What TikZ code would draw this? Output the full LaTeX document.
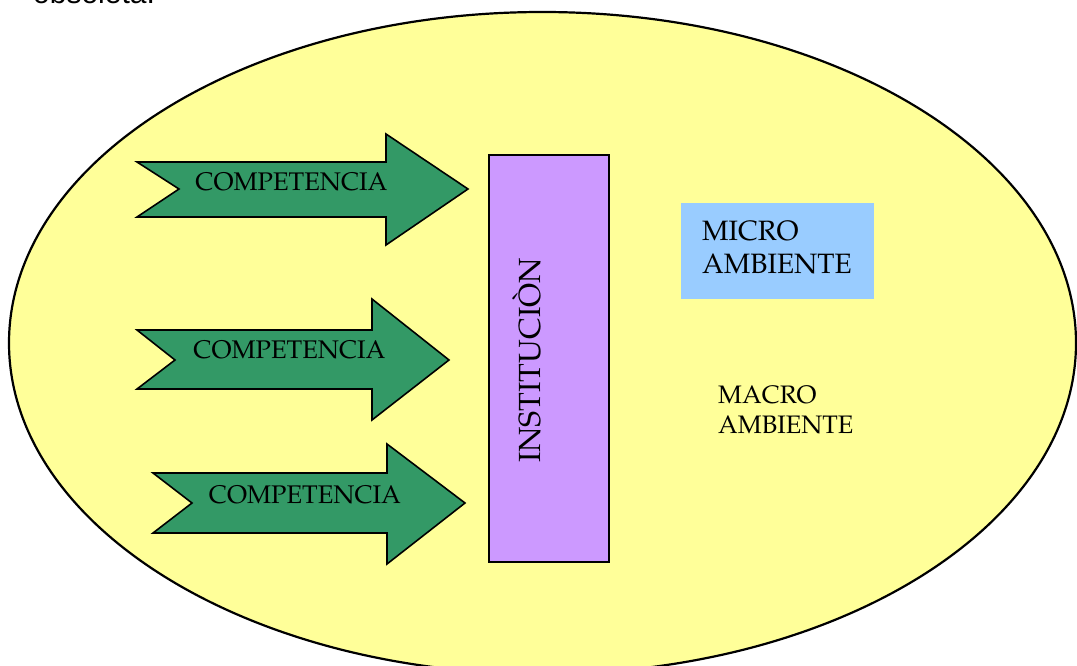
\documentclass[tikz,border=0pt]{standalone}
\usepackage{fontspec}
\newfontfamily\topfont{Liberation Sans}
\usepackage[T1]{fontenc}
\renewcommand{\rmdefault}{ppl}
\definecolor{envyellow}{HTML}{FFFF99}
\definecolor{compgreen}{HTML}{339966}
\definecolor{instpurple}{HTML}{CC99FF}
\definecolor{microblue}{HTML}{99CCFF}
\tikzset{
  comparrow/.style={draw=black, line width=1.6pt, fill=compgreen, line join=miter},
  comptext/.style={anchor=base, inner sep=0pt, font=\fontsize{25.5}{30}\selectfont},
  envtext/.style={anchor=north west, inner sep=0pt, align=left}
}
\begin{document}
\begin{tikzpicture}[x=1pt, y=-1pt]
\useasboundingbox (0,0) rectangle (1077,666);
% partly visible heading text
\node[anchor=base west, inner sep=0pt, font=\topfont\fontsize{30}{36}\selectfont] (heading) at (33,4) {obsoleta.};
% environment ellipse
\draw[line width=2.2pt, fill=envyellow] (542.5,343) ellipse [x radius=533.5, y radius=331];
\node (env) at (542.5,343) {};
% arrows
\draw[comparrow] (137,162) -- (386,162) -- (386,134) -- (468,189) -- (386,245) -- (386,217) -- (137,217) -- (179,189) -- cycle;
\node[comptext] (c1) at (291.5,191) {COMPETENCIA};
\draw[comparrow] (137,330) -- (372,330) -- (372,299) -- (449,360) -- (372,420) -- (372,389) -- (137,389) -- (175,360) -- cycle;
\node[comptext] (c2) at (289.5,358) {COMPETENCIA};
\draw[comparrow] (153,473) -- (387,473) -- (387,444) -- (465,503) -- (387,564) -- (387,533) -- (153,533) -- (192,503) -- cycle;
\node[comptext] (c3) at (305,503) {COMPETENCIA};
% institution
\node[draw=black, line width=1.3pt, fill=instpurple, minimum width=120pt, minimum height=407pt, inner sep=0pt] (inst) at (549,358.5) {};
\node[rotate=90, anchor=base, inner sep=0pt, font=\fontsize{30.6}{36}\selectfont] (insttext) at (540,360.5) {INSTITUCI\`ON};
% micro environment
\node[fill=microblue, minimum width=193pt, minimum height=96pt, inner sep=0pt] (micro) at (777.5,251) {};
\node[envtext, font=\fontsize{28}{33}\selectfont] (microtext) at (702,221) {MICRO\\AMBIENTE};
% macro environment
\node[envtext, font=\fontsize{25.3}{30}\selectfont] (macro) at (718,386) {MACRO\\AMBIENTE};
\end{tikzpicture}
\end{document}
